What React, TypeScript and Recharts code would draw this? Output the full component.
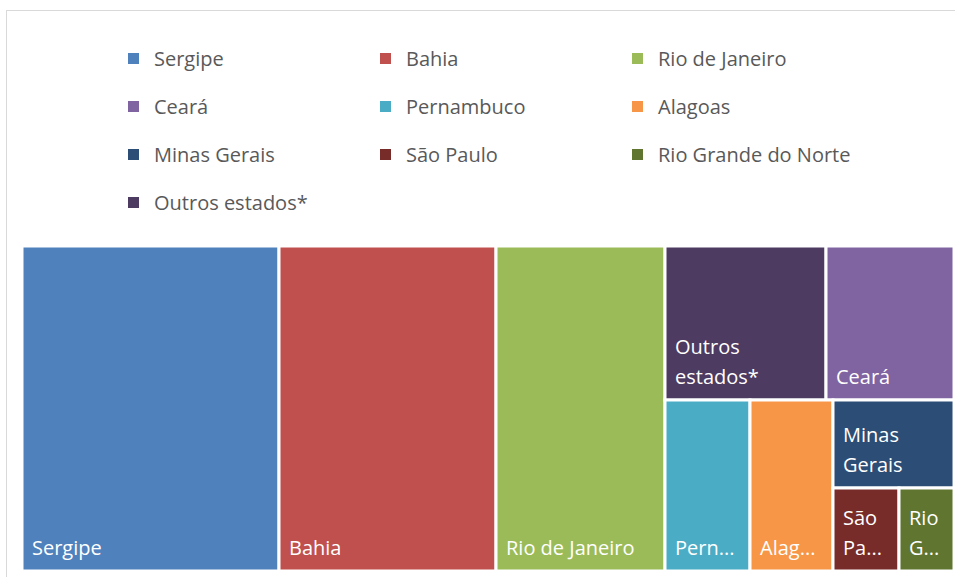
import React from 'react';
import { Treemap } from 'recharts';

// legend order (as in the original chart)
const states = [
  'Sergipe', 'Bahia', 'Rio de Janeiro',
  'Ceará', 'Pernambuco', 'Alagoas',
  'Minas Gerais', 'São Paulo', 'Rio Grande do Norte',
  'Outros estados*',
];
const shares = [27.6, 23.3, 18.1, 6.5, 4.8, 4.7, 3.5, 1.8, 1.5, 8.2];
const colors = [
  '#4F81BD', '#C0504D', '#9BBB59',
  '#8064A2', '#4BACC6', '#F79646',
  '#2C4D75', '#772C2A', '#5F7530',
  '#4D3B62',
];

const leaf = (name: string) => {
  const i = states.indexOf(name);
  return { name, value: shares[i], color: colors[i] };
};

// grouping so the squarify layout follows the original tiling
const treeData = [
  leaf('Sergipe'),
  leaf('Bahia'),
  leaf('Rio de Janeiro'),
  {
    name: 'rest',
    children: [
      { name: 'top', children: [leaf('Outros estados*'), leaf('Ceará')] },
      {
        name: 'bottom',
        children: [
          leaf('Pernambuco'),
          leaf('Alagoas'),
          {
            name: 'small',
            children: [
              leaf('Minas Gerais'),
              { name: 'smallest', children: [leaf('São Paulo'), leaf('Rio Grande do Norte')] },
            ],
          },
        ],
      },
    ],
  },
];

const FONT = '"Open Sans", sans-serif';
const FS = 20;
const LINE = 30;
const PAD = 10;

let ctx: CanvasRenderingContext2D | null = null;
const measure = (t: string) => {
  if (!ctx) {
    ctx = document.createElement('canvas').getContext('2d');
  }
  if (!ctx) return t.length * FS * 0.55;
  ctx.font = `${FS}px "Open Sans"`;
  return ctx.measureText(t).width;
};

const cut = (word: string, maxW: number) => {
  if (measure(word) <= maxW) return word;
  let s = word;
  while (s.length > 1 && measure(s + '...') > maxW) s = s.slice(0, -1);
  return s + '...';
};

const wrap = (text: string, maxW: number, maxLines: number) => {
  const words = text.split(' ');
  const lines: string[] = [];
  let cur = '';
  words.forEach((w) => {
    const next = cur ? cur + ' ' + w : w;
    if (measure(next) <= maxW) {
      cur = next;
    } else {
      if (cur) lines.push(cur);
      cur = w;
    }
  });
  if (cur) lines.push(cur);
  let out = lines.map((l) => cut(l, maxW));
  if (out.length > maxLines) {
    out = out.slice(0, maxLines);
    const last = out[maxLines - 1];
    if (!last.endsWith('...')) out[maxLines - 1] = cut(last + '...', maxW);
  }
  return out;
};

const Cell = (props: any) => {
  const { x, y, width, height, name, color, children } = props;
  if (children && children.length) return null;
  if (!color) return null;
  const maxLines = Math.max(1, Math.floor((height - 8) / LINE));
  const lines = wrap(name, width - PAD * 2, maxLines);
  const baseY = y + height - 16;
  return (
    <g>
      <rect x={x} y={y} width={width} height={height} fill={color} stroke="#fff" strokeWidth={3} />
      {lines.map((l, i) => (
        <text
          key={i}
          x={x + PAD}
          y={baseY - (lines.length - 1 - i) * LINE}
          fill="#fff"
          fontFamily={FONT}
          fontSize={FS}
        >
          {l}
        </text>
      ))}
    </g>
  );
};

const legendCols = [128, 380, 632];
const legendRow0 = 58;
const legendStep = 48.3;

export default function App() {
  return (
    <div
      style={{
        position: 'fixed',
        left: 0,
        top: 0,
        width: 955,
        height: 577,
        overflow: 'hidden',
        background: '#fff',
        fontFamily: FONT,
      }}
    >
      <div
        style={{
          position: 'absolute',
          left: 6,
          top: 10,
          width: 1000,
          height: 700,
          border: '1px solid #D9D9D9',
        }}
      />
      {states.map((s, i) => (
        <div
          key={s}
          style={{
            position: 'absolute',
            left: legendCols[i % 3],
            top: legendRow0 + Math.floor(i / 3) * legendStep - 14,
            height: 28,
            display: 'flex',
            alignItems: 'center',
            whiteSpace: 'nowrap',
            fontSize: FS,
            color: '#595959',
          }}
        >
          <span style={{ width: 11, height: 11, background: colors[i], marginRight: 15, display: 'inline-block' }} />
          {s}
        </div>
      ))}
      <div style={{ position: 'absolute', left: 22, top: 246 }}>
        <Treemap
          width={932}
          height={325}
          data={treeData}
          dataKey="value"
          nameKey="name"
          aspectRatio={0.8}
          isAnimationActive={false}
          content={(p: any) => <Cell {...p} />}
        />
      </div>
    </div>
  );
}
